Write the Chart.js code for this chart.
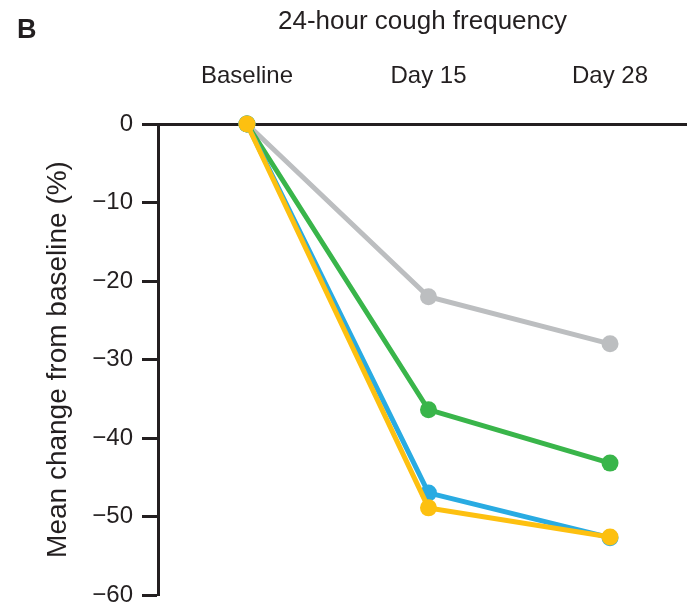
<!DOCTYPE html>
<html>
<head>
<meta charset="utf-8">
<script src="https://cdn.jsdelivr.net/npm/chart.js@4/dist/chart.umd.min.js"></script>
<style>
  body { margin: 0; background: #fff; }
  #wrap { width: 687px; height: 605px; position: relative; }
</style>
</head>
<body>
<div id="wrap"><canvas id="cough-chart"></canvas></div>
<script>
const categories = ['Baseline', 'Day 15', 'Day 28'];
const yTicks = [0, -10, -20, -30, -40, -50, -60];

const grayValues = [0, -22.0, -28.0];
const greenValues = [0, -36.4, -43.2];
const blueValues = [0, -47.0, -52.7];
const yellowValues = [0, -48.9, -52.6];

const ink = '#231f20';
const font = '"Liberation Sans", Arial, Helvetica, sans-serif';

Chart.defaults.font.family = font;
Chart.defaults.color = ink;

function series(values, color) {
    return {
        data: values.map((v, i) => ({ x: i, y: v })),
        borderColor: color,
        backgroundColor: color,
        pointBackgroundColor: color,
        pointBorderWidth: 0,
        pointRadius: 8.5,
        pointHoverRadius: 8.5,
        borderWidth: 5,
        clip: false
    };
}

// panel letter in the top left corner
const panelLetter = {
    id: 'panelLetter',
    afterDraw(chart) {
        const ctx = chart.ctx;
        ctx.save();
        ctx.font = 'bold 27px ' + font;
        ctx.fillStyle = ink;
        ctx.textBaseline = 'alphabetic';
        ctx.fillText('B', 17, 38);
        ctx.restore();
    }
};

const chartCanvas = document.querySelector('#cough-chart');

// first dataset ends up on top
new Chart(chartCanvas, {
    type: 'line',
    data: {
        datasets: [
            series(yellowValues, '#fdc010'),
            series(blueValues, '#29abe2'),
            series(greenValues, '#39b54a'),
            series(grayValues, '#bcbec0')
        ]
    },
    plugins: [panelLetter],
    options: {
        responsive: true,
        maintainAspectRatio: false,
        animation: false,
        events: [],
        layout: {
            autoPadding: false,
            padding: { left: 0, top: 0, right: 0, bottom: 10 }
        },
        plugins: {
            legend: { display: false },
            tooltip: { enabled: false }
        },
        scales: {
            x: {
                type: 'linear',
                position: 'top',
                min: -0.49,
                max: 2.424,
                afterBuildTicks: (scale) => {
                    scale.ticks = categories.map((c, i) => ({ value: i }));
                },
                afterFit: (scale) => {
                    scale.height = 124;
                    scale.paddingLeft = 0;
                    scale.paddingRight = 0;
                },
                ticks: {
                    autoSkip: false,
                    maxRotation: 0,
                    padding: 33,
                    font: { size: 24 },
                    callback: (v) => categories[v]
                },
                grid: { display: true, drawOnChartArea: false, drawTicks: false },
                border: { display: true, color: ink, width: 3 },
                title: {
                    display: true,
                    text: '24-hour cough frequency',
                    font: { size: 26 },
                    padding: { top: 6, bottom: 0 }
                }
            },
            y: {
                min: -60,
                max: 0,
                afterBuildTicks: (scale) => {
                    scale.ticks = yTicks.map((v) => ({ value: v }));
                },
                afterFit: (scale) => {
                    scale.width = 158;
                    scale.paddingTop = 0;
                    scale.paddingBottom = 0;
                },
                ticks: {
                    padding: 9,
                    font: { size: 24 },
                    callback: (v) => (v < 0 ? '\u2212' + Math.abs(v) : String(v))
                },
                grid: {
                    display: true,
                    drawOnChartArea: false,
                    tickLength: 16,
                    tickWidth: 3,
                    tickColor: ink
                },
                border: { display: true, color: ink, width: 3 },
                title: {
                    display: true,
                    text: 'Mean change from baseline (%)',
                    font: { size: 28 },
                    padding: { top: 41, bottom: 0 }
                }
            }
        }
    }
});
</script>
</body>
</html>
